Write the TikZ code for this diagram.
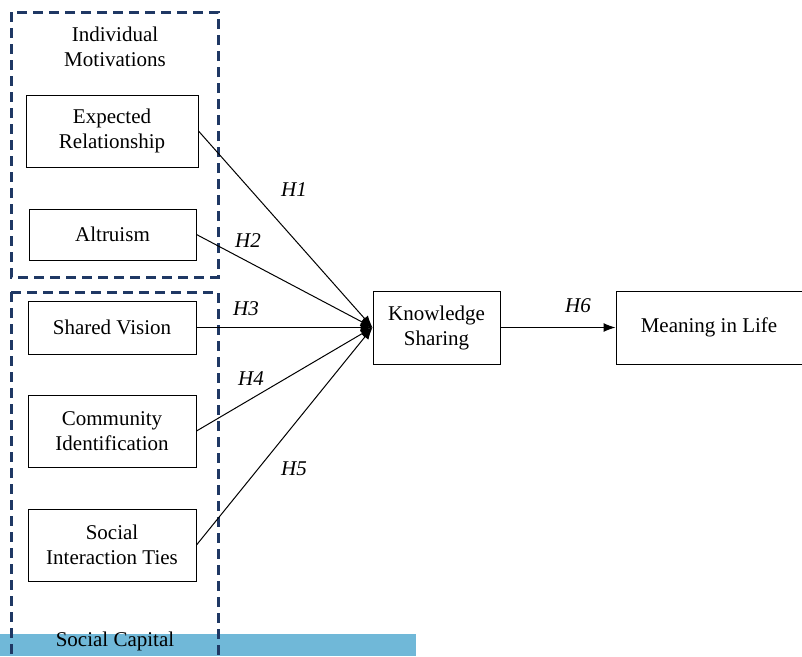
\documentclass[tikz,border=0pt]{standalone}
\usepackage{fontspec}
\setmainfont{Liberation Serif}
\usetikzlibrary{positioning,arrows.meta}
\definecolor{navy}{RGB}{31,56,100}
\definecolor{barblue}{RGB}{112,184,216}
\tikzset{
  factor/.style={draw,line width=1pt,align=center,inner sep=0pt,minimum width=168pt,minimum height=72pt},
  hyp/.style={font=\fontsize{21}{25}\selectfont\itshape},
  group/.style={draw=navy,line width=3pt,dash pattern=on 10pt off 6pt},
  path/.style={->,line width=1pt,>={Latex[length=12pt,width=9pt]}},
}
\begin{document}
\begin{tikzpicture}[x=1pt,y=-1pt,font=\fontsize{21}{25}\selectfont]
\useasboundingbox (0,0) rectangle (802,656);
% group labels and frames
\fill[barblue] (0,634) rectangle (416,656);
\node (sc) at (115,641){Social Capital};
\node[align=center] (im) at (115,47){Individual\\Motivations};
\draw[group] (11,12) rectangle (218,277);
\draw[group] (11,292) -- (218,292) -- (218,660);
\draw[group] (11,292) -- (11,660);
% constructs
\node[factor,minimum width=172pt] (er) at (112,131){Expected\\Relationship};
\node[factor,minimum width=167pt,minimum height=51pt] (al) at (112.5,234.5){Altruism};
\node[factor,minimum height=53pt] (sv) at (112,327.5){Shared Vision};
\node[factor] (ci) at (112,431){Community\\Identification};
\node[factor] (si) at (112,545){Social\\Interaction Ties};
\node[factor,minimum width=127pt,minimum height=73pt] (ks) at (436.5,327.5){Knowledge\\Sharing};
\node[factor,minimum width=186pt,minimum height=73pt] (ml) at (709,327.5){Meaning in Life};
% paths
\draw[path] (er.east) -- (ks.west);
\draw[path] (al.east) -- (ks.west);
\draw[path] (sv.east) -- (ks.west);
\draw[path] (ci.east) -- (ks.west);
\draw[path] (si.east) -- (ks.west);
\draw[path] (ks.east) -- (ml.west);
\node[hyp] (h1) at (294,190){H1};
\node[hyp] (h2) at (248,241){H2};
\node[hyp] (h3) at (246,309){H3};
\node[hyp] (h4) at (251,379){H4};
\node[hyp] (h5) at (294,469){H5};
\node[hyp] (h6) at (578,306){H6};
\end{tikzpicture}
\end{document}
